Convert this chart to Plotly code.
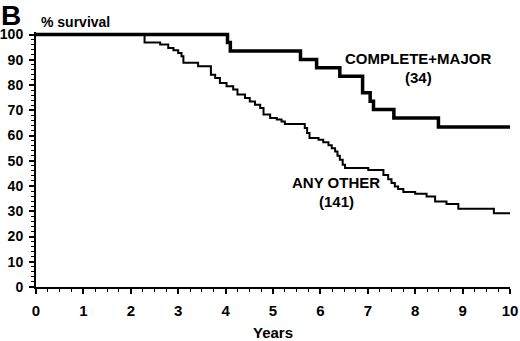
import plotly.graph_objects as go

# COMPLETE+MAJOR (34)
cm_years = [0, 4.04, 4.10, 5.58, 5.92, 6.41, 6.89, 7.05, 7.12, 7.55, 8.49, 10.0]
cm_surv = [100, 96.8, 93.5, 90.1, 86.8, 83.5, 76.9, 73.6, 70.3, 66.9, 63.4, 63.4]

# ANY OTHER (141)
ao_years = [0, 2.29, 2.62, 2.79, 2.90, 3.00, 3.07, 3.11, 3.42, 3.69, 3.78, 3.88,
            4.02, 4.16, 4.25, 4.41, 4.51, 4.62, 4.73, 4.80, 4.94, 5.08, 5.18, 5.25,
            5.67, 5.72, 5.77, 5.96, 6.06, 6.17, 6.24, 6.31, 6.36, 6.41, 6.47, 6.52,
            7.01, 7.33, 7.43, 7.50, 7.57, 7.64, 7.75, 8.00, 8.24, 8.42, 8.66, 8.91,
            9.66, 10.0]
ao_surv = [100, 96.8, 96.0, 94.7, 93.8, 92.7, 91.4, 88.8, 87.4, 84.1, 82.8, 80.8,
           79.5, 78.2, 76.2, 74.9, 73.5, 72.2, 70.9, 68.3, 66.9, 66.3, 65.6, 64.6,
           63.0, 61.0, 59.0, 58.3, 57.3, 56.1, 55.0, 53.7, 52.0, 50.4, 48.4, 47.1,
           46.3, 44.4, 42.7, 41.2, 39.8, 38.8, 37.6, 36.9, 35.8, 33.9, 32.9, 31.0,
           29.2, 29.2]

x_ticks = list(range(0, 11))
y_ticks = list(range(0, 101, 10))

FONT = "Liberation Sans, Arial, Helvetica, sans-serif"

fig = go.Figure()
fig.add_trace(go.Scatter(x=ao_years, y=ao_surv, mode="lines", line_shape="hv",
                         line=dict(color="black", width=2), showlegend=False))
fig.add_trace(go.Scatter(x=cm_years, y=cm_surv, mode="lines", line_shape="hv",
                         line=dict(color="black", width=3.5), showlegend=False))

L, R, T, B = 36, 10, 32, 54
W, H = 520, 341
pw, ph = W - L - R, H - T - B

def px(xp):
    return (xp - L) / pw

def py(yp):
    return (H - B - yp) / ph

annos = [
    dict(text="COMPLETE+MAJOR", x=8.05, y=90.4, xref="x", yref="y", size=15),
    dict(text="(34)", x=8.06, y=82.9, xref="x", yref="y", size=15),
    dict(text="ANY OTHER", x=6.32, y=41.3, xref="x", yref="y", size=15),
    dict(text="(141)", x=6.33, y=33.7, xref="x", yref="y", size=15),
]
for a in annos:
    fig.add_annotation(text=a["text"], x=a["x"], y=a["y"], xref=a["xref"], yref=a["yref"],
                       showarrow=False, xanchor="center", yanchor="middle",
                       font=dict(family=FONT, size=a["size"], color="black", weight="bold"))

fig.add_annotation(text="B", x=px(11), y=py(15), xref="paper", yref="paper",
                   showarrow=False, xanchor="center", yanchor="middle",
                   font=dict(family=FONT, size=28, color="black", weight="bold"))
fig.add_annotation(text="% survival", x=px(39), y=py(22), xref="paper", yref="paper",
                   showarrow=False, xanchor="left", yanchor="middle",
                   font=dict(family=FONT, size=14, color="black", weight="bold"))
fig.add_annotation(text="Years", x=px(273), y=py(332), xref="paper", yref="paper",
                   showarrow=False, xanchor="center", yanchor="middle",
                   font=dict(family=FONT, size=15, color="black", weight="bold"))

fig.update_layout(
    width=W, height=H,
    margin=dict(l=L, r=R, t=T, b=B, pad=0, autoexpand=False),
    paper_bgcolor="white", plot_bgcolor="white",
    font=dict(family=FONT, color="black", weight="bold"),
    xaxis=dict(range=[0, 10], tickvals=x_ticks, ticktext=[str(v) for v in x_ticks],
               automargin=False,
               showgrid=False, zeroline=False, showline=True, linecolor="black", linewidth=2,
               ticks="outside", ticklen=5, tickwidth=1.5, tickcolor="black",
               tickfont=dict(family=FONT, size=15, color="black", weight="bold"),
               ticklabelstandoff=4,
               minor=dict(dtick=0.25, ticks="outside", ticklen=3, tickwidth=1, tickcolor="black",
                          showgrid=False)),
    yaxis=dict(range=[0, 101], tickvals=y_ticks, ticktext=[str(v) for v in y_ticks],
               automargin=False,
               showgrid=False, zeroline=False, showline=True, linecolor="black", linewidth=2,
               ticks="outside", ticklen=5, tickwidth=1.5, tickcolor="black",
               tickfont=dict(family=FONT, size=14, color="black", weight="bold"),
               ticklabelstandoff=3,
               minor=dict(dtick=2, ticks="outside", ticklen=3, tickwidth=1, tickcolor="black",
                          showgrid=False)),
)

fig.write_html("out.html", config={"displayModeBar": False},
               post_script="document.body.style.margin='0';document.body.style.overflow='hidden';")
